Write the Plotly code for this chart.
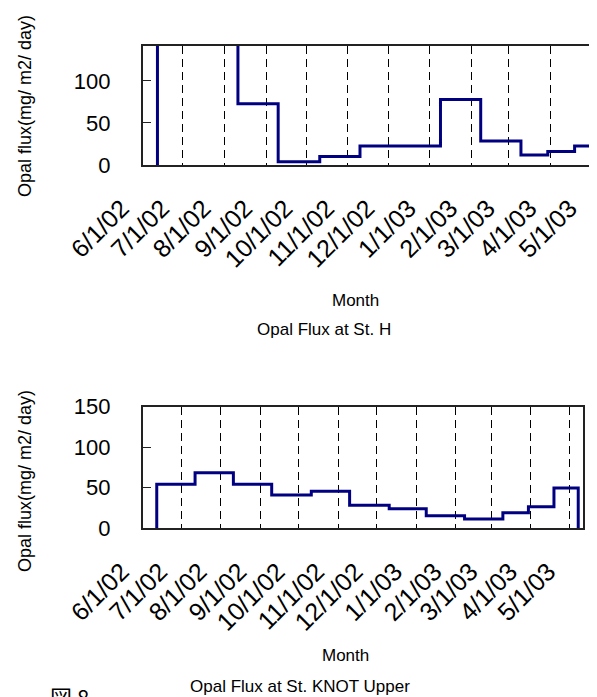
import plotly.graph_objects as go

# ---- data ----
sample_dates = ['2002-06-12', '2002-07-12', '2002-08-11', '2002-09-10', '2002-10-11',
                '2002-11-10', '2002-12-11', '2003-01-09', '2003-02-08', '2003-03-10',
                '2003-03-30', '2003-04-19', '2003-05-08']
flux_st_h = [250, 220, 73, 4, 10, 22.5, 22.5, 78, 28.5, 12, 16, 22.5]
flux_knot_upper = [54.3, 68.6, 54.3, 41.1, 45.6, 28.4, 24.2, 15.5, 11.5, 19.2, 26.6, 49.7]

month_ticks = ['2002-06-01', '2002-07-01', '2002-08-01', '2002-09-01', '2002-10-01',
               '2002-11-01', '2002-12-01', '2003-01-01', '2003-02-01', '2003-03-01',
               '2003-04-01', '2003-05-01']
month_labels = ['6/1/02', '7/1/02', '8/1/02', '9/1/02', '10/1/02', '11/1/02', '12/1/02',
                '1/1/03', '2/1/03', '3/1/03', '4/1/03', '5/1/03']

W, H = 597, 697
OFF = 8  # page body margin
FONT = 'Liberation Sans, Arial, sans-serif'
NAVY = 'rgb(0,0,128)'


def step_xy(dates, values):
    xs = [dates[0]] + list(dates)
    ys = [0] + list(values) + [0]
    return xs, ys


fig = go.Figure()
xs, ys = step_xy(sample_dates, flux_st_h)
fig.add_trace(go.Scatter(x=xs, y=ys, mode='lines', line=dict(color=NAVY, width=3, shape='hv'),
                         xaxis='x', yaxis='y', showlegend=False, hoverinfo='skip'))
xs, ys = step_xy(sample_dates, flux_knot_upper)
fig.add_trace(go.Scatter(x=xs, y=ys, mode='lines', line=dict(color=NAVY, width=3, shape='hv'),
                         xaxis='x2', yaxis='y2', showlegend=False, hoverinfo='skip'))


def px_x(p):
    return (p - OFF) / W


def px_y(p):
    return 1 - (p - OFF) / H


xcommon = dict(type='date', tickmode='array', tickvals=month_ticks, ticktext=month_labels,
               tickangle=-45, tickfont=dict(family=FONT, size=25, color='black'),
               showgrid=True, gridcolor='black', gridwidth=1, griddash='8px,5px',
               showline=True, linecolor='#222', linewidth=1.5, mirror=True,
               ticks='', zeroline=False, ticklabelstandoff=17, ticklabelshift=-21,
               automargin=False)
ycommon = dict(tickmode='array', ticks='inside', ticklen=9, tickcolor='#222', tickwidth=1,
               tickfont=dict(family=FONT, size=22, color='black'), showgrid=False,
               zeroline=False, showline=True, linecolor='#222', linewidth=1.5,
               ticklabelstandoff=26, automargin=False, mirror=True)

fig.update_layout(
    width=W, height=H, margin=dict(l=0, r=0, t=0, b=0, pad=0, autoexpand=False),
    paper_bgcolor='white', plot_bgcolor='rgba(0,0,0,0)',
    xaxis=dict(xcommon, domain=[px_x(142.7), 1.0], anchor='y',
               range=['2002-06-01', '2003-05-11 16:00']),
    yaxis=dict(ycommon, domain=[px_y(165), px_y(45.7)], anchor='x', range=[0, 142],
               tickvals=[0, 50, 100]),
    xaxis2=dict(xcommon, domain=[px_x(142.7), px_x(582.7)], anchor='y2',
                range=['2002-06-01', '2003-05-11 12:00']),
    yaxis2=dict(ycommon, domain=[px_y(528.3), px_y(406.7)], anchor='x2', range=[0, 150],
                tickvals=[0, 50, 100, 150]),
)

ann_font = dict(family=FONT, size=17, color='black')
annotations = [
    dict(text='Month', x=px_x(355), y=px_y(300)),
    dict(text='Opal Flux at St. H', x=px_x(324), y=px_y(330)),
    dict(text='Month', x=px_x(345), y=px_y(655)),
    dict(text='Opal Flux at St. KNOT Upper', x=px_x(300), y=px_y(686)),
    dict(text='Opal flux(mg/ m2/ day)', x=px_x(25), y=px_y(106), textangle=-90,
         font=dict(family=FONT, size=18, color='black')),
    dict(text='Opal flux(mg/ m2/ day)', x=px_x(25), y=px_y(481), textangle=-90,
         font=dict(family=FONT, size=18, color='black')),
]
for a in annotations:
    a.setdefault('font', ann_font)
    a.update(xref='paper', yref='paper', showarrow=False,
             xanchor='center', yanchor='middle')
annotations.append(dict(text='図 8', x=px_x(48), y=px_y(678), xref='paper', yref='paper',
                        showarrow=False, xanchor='left', yanchor='top',
                        font=dict(family='Noto Sans CJK JP', size=22, color='black')))
fig.update_layout(annotations=annotations)

fig.write_html('out.html')
